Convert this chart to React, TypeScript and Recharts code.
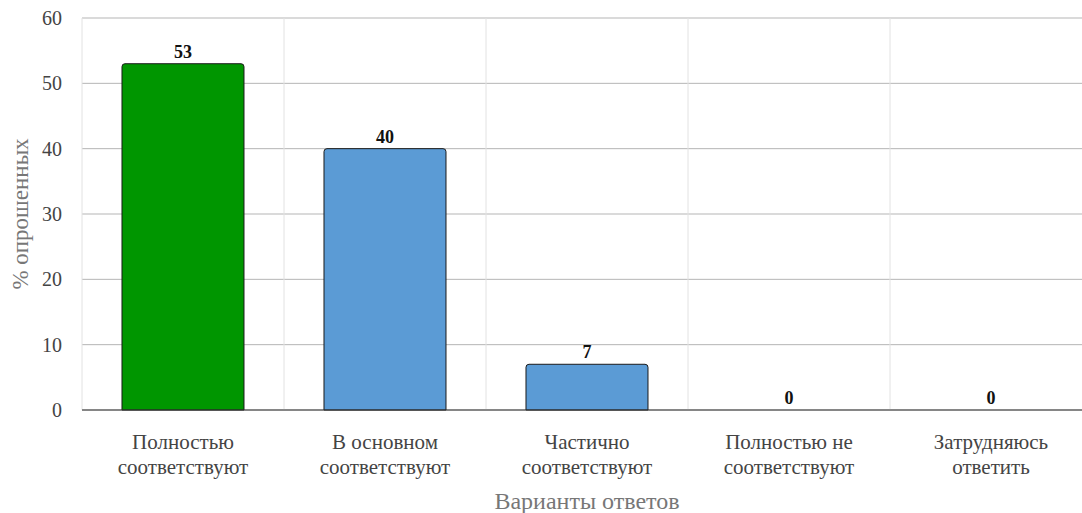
import React from "react";
import { ComposedChart, Bar, Line, XAxis, YAxis, CartesianGrid, Cell, LabelList } from "recharts";

const categories = [
  "Полностью\nсоответствуют",
  "В основном\nсоответствуют",
  "Частично\nсоответствуют",
  "Полностью не\nсоответствуют",
  "Затрудняюсь\nответить",
];
const values = [53, 40, 7, 0, 0];
const barColors = ["#009600", "#5b9bd5", "#5b9bd5", "#5b9bd5", "#5b9bd5"];
const yTicks = [0, 10, 20, 30, 40, 50, 60];

const data = categories.map((c, i) => ({ name: c, value: values[i] }));

const FONT = "'Liberation Serif', 'Times New Roman', serif";

const CatTick = (props: any) => {
  const { x, y, payload } = props;
  const lines = String(payload.value).split("\n");
  return (
    <text x={x} y={y} textAnchor="middle" fill="#444" fontSize={21} fontFamily={FONT}>
      {lines.map((l: string, i: number) => (
        <tspan key={i} x={x} dy={i === 0 ? 39 : 25}>
          {l}
        </tspan>
      ))}
    </text>
  );
};

const YTitle = (props: any) => {
  const vb = props.viewBox || { x: 0, y: 18, width: 82, height: 392 };
  const cx = vb.x + 20;
  const cy = vb.y + vb.height / 2;
  return (
    <text
      x={cx}
      y={cy}
      transform={`rotate(-90, ${cx}, ${cy})`}
      textAnchor="middle"
      dominantBaseline="central"
      fill="#777"
      fontSize={23}
      fontFamily={FONT}
    >
      % опрошенных
    </text>
  );
};

const boundaryGenerator = (props: any) => {
  const xAxis = props && props.xAxis;
  const offset = props && props.offset;
  try {
    if (xAxis && typeof xAxis.scale === "function" && typeof xAxis.scale.bandwidth === "function") {
      const pts = categories.map((c) => xAxis.scale(c));
      if (pts.every((p: any) => typeof p === "number" && isFinite(p))) return pts;
    }
  } catch (e) {
    // fall through
  }
  if (offset && typeof offset.width === "number") {
    const step = offset.width / categories.length;
    return categories.map((_, i) => offset.left + i * step);
  }
  return [];
};

export default function App() {
  return (
    <div style={{ position: "absolute", left: 0, top: 0, width: 1082, height: 513, overflow: "hidden" }}>
      <ComposedChart
        width={1092}
        height={513}
        data={data}
        margin={{ top: 18, right: 0, bottom: 0, left: 0 }}
        barCategoryGap="19.8%"
      >
        <CartesianGrid horizontal={true} vertical={false} stroke="#b5b5b5" strokeWidth={1} />
        <CartesianGrid
          horizontal={false}
          vertical={true}
          xAxisId="cat"
          stroke="#e2e2e2"
          strokeWidth={1}
          verticalCoordinatesGenerator={boundaryGenerator}
        />
        <XAxis
          xAxisId="cat"
          dataKey="name"
          height={103}
          tickSize={0}
          tickMargin={0}
          tickLine={false}
          axisLine={{ stroke: "#333", strokeWidth: 1.2 }}
          tick={<CatTick />}
          interval={0}
          label={{
            value: "Варианты ответов",
            position: "insideBottom",
            offset: 4,
            fill: "#777",
            fontSize: 24,
            fontFamily: FONT,
          }}
        />
        <YAxis
          width={82}
          domain={[0, 60]}
          ticks={yTicks}
          tickSize={0}
          tickMargin={20}
          tickLine={false}
          axisLine={false}
          tick={{ fill: "#444", fontSize: 20, fontFamily: FONT }}
          label={<YTitle />}
        />
        <Bar
          xAxisId="cat"
          dataKey="value"
          stroke="#1a1a1a"
          strokeWidth={1}
          radius={[3, 3, 0, 0]}
          isAnimationActive={false}
        >
          {data.map((d, i) => (
            <Cell key={i} fill={barColors[i]} />
          ))}
        </Bar>
        <Line
          xAxisId="cat"
          dataKey="value"
          stroke="none"
          dot={false}
          activeDot={false}
          legendType="none"
          isAnimationActive={false}
        >
          <LabelList
            dataKey="value"
            position="top"
            offset={6}
            fill="#111"
            fontSize={18}
            fontWeight="bold"
            fontFamily={FONT}
          />
        </Line>
      </ComposedChart>
    </div>
  );
}
